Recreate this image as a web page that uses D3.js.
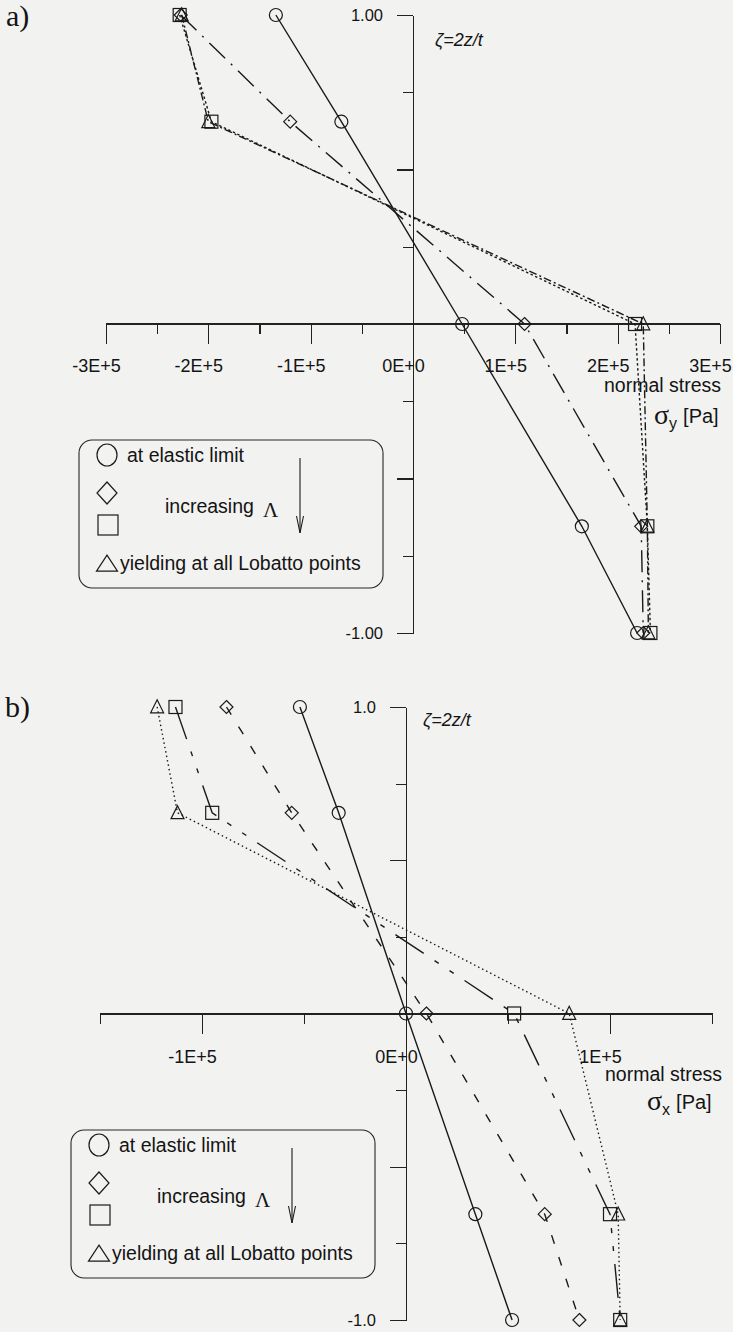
<!DOCTYPE html>
<html>
<head>
<meta charset="utf-8">
<script src="https://cdn.jsdelivr.net/npm/d3@7"></script>
<style>
  html, body { margin: 0; padding: 0; background: #f2f2f0; }
  svg { display: block; }
  .axis path, .axis line { stroke: #222; stroke-width: 1.1; shape-rendering: crispEdges; }
  .axis text { font-family: "Liberation Sans", Arial, sans-serif; fill: #141414; }
  .sans { font-family: "Liberation Sans", Arial, sans-serif; fill: #141414; }
  .serif { font-family: "Liberation Serif", "Times New Roman", serif; fill: #141414; }
</style>
</head>
<body>
<svg id="chart" width="733" height="1332"></svg>
<script>
// Normalised thickness coordinate of the five Lobatto points
const zeta = [1, 0.6547, 0, -0.6547, -1];

// Panel a: normal stress sigma_y [Pa] through the thickness
const sigmaYElastic  = [-134000, -70000,  48000, 165000, 219000];
const sigmaYDiamond  = [-227000, -120000, 109000, 223000, 225000];
const sigmaYSquare   = [-228000, -197000, 217000, 229000, 232000];
const sigmaYYielding = [-226000, -200000, 225000, 229000, 230000];

// Panel b: normal stress sigma_x [Pa] through the thickness
const sigmaXElastic  = [-52000, -33000,     0,  34000,  52000];
const sigmaXDiamond  = [-88000, -56000, 10000,  68000,  85000];
const sigmaXSquare   = [-113000, -95000, 53000, 100000, 105000];
const sigmaXYielding = [-122000, -112000, 80000, 104000, 105000];

// Axis ticks
const aMajorTicks  = [-300000, -200000, -100000, 0, 100000, 200000, 300000];
const aMajorLabels = ["-3E+5", "-2E+5", "-1E+5", "0E+0", "1E+5", "2E+5", "3E+5"];
const aMinorTicks  = [-250000, -150000, -50000, 50000, 150000, 250000];
const bMajorTicks  = [-100000, 0, 100000];
const bMajorLabels = ["-1E+5", "0E+0", "1E+5"];
const bMinorTicks  = [-150000, -50000, 50000, 150000];
const zetaMajorTicks = [-1, -0.5, 0, 0.5, 1];
const zetaMinorTicks = [-0.75, -0.25, 0.25, 0.75];
const aZetaLabels = ["-1.00", "1.00"];
const bZetaLabels = ["-1.0", "1.0"];

// Legend entries
const legendShapes = ["circle", "diamond", "square", "triangle"];
const legendTexts  = ["at elastic limit", "", "", "yielding at all Lobatto points"];

const svg = d3.select("#chart");
const ink = "#1a1a1a";

function marker(g, shape, cx, cy, w, h) {
  h = h || w;
  const hw = w / 2, hh = h / 2;
  let el;
  if (shape === "circle") {
    el = g.append("ellipse").attr("cx", cx).attr("cy", cy).attr("rx", hw).attr("ry", hh);
  } else if (shape === "diamond") {
    el = g.append("path").attr("d", `M${cx},${cy - hh}L${cx + hw},${cy}L${cx},${cy + hh}L${cx - hw},${cy}Z`);
  } else if (shape === "square") {
    el = g.append("rect").attr("x", cx - hw).attr("y", cy - hh).attr("width", w).attr("height", h);
  } else {
    el = g.append("path").attr("d", `M${cx},${cy - hh * 1.1}L${cx + hw},${cy + hh * 0.9}L${cx - hw},${cy + hh * 0.9}Z`);
  }
  el.attr("fill", "none").attr("stroke", ink).attr("stroke-width", 1.2);
}

const panels = [
  {
    tag: "a)", tagPos: [6, 26],
    xDomain: [-300000, 300000], xRange: [106, 720], yRange: [633, 15],
    majors: aMajorTicks, majorLabels: aMajorLabels, minors: aMinorTicks,
    zetaLabels: aZetaLabels, tickPad: 15,
    zetaPos: [435, 46],
    stressPos: [721, 392], sigmaPos: [654, 424], sub: "y",
    legendPos: [79, 440],
    series: [
      { shape: "circle",   values: sigmaYElastic,  dash: null },
      { shape: "diamond",  values: sigmaYDiamond,  dash: "22,8,2,8" },
      { shape: "square",   values: sigmaYSquare,   dash: "2.5,2.5" },
      { shape: "triangle", values: sigmaYYielding, dash: "8,3,2,3" }
    ]
  },
  {
    tag: "b)", tagPos: [5, 717],
    xDomain: [-150000, 150000], xRange: [100, 712], yRange: [1320, 707],
    majors: bMajorTicks, majorLabels: bMajorLabels, minors: bMinorTicks,
    zetaLabels: bZetaLabels, tickPad: 17,
    zetaPos: [423, 726],
    stressPos: [722, 1081], sigmaPos: [647, 1110], sub: "x",
    legendPos: [71, 1130],
    series: [
      { shape: "circle",   values: sigmaXElastic,  dash: null },
      { shape: "diamond",  values: sigmaXDiamond,  dash: "9,14" },
      { shape: "square",   values: sigmaXSquare,   dash: "34,13,5,13,5,13" },
      { shape: "triangle", values: sigmaXYielding, dash: "1.5,3" }
    ]
  }
];

panels.forEach(p => {
  const x = d3.scaleLinear().domain(p.xDomain).range(p.xRange);
  const y = d3.scaleLinear().domain([-1, 1]).range(p.yRange);
  const g = svg.append("g");

  // x axis (through zeta = 0), ticks pointing down
  g.append("g").attr("class", "axis")
    .attr("transform", `translate(0,${y(0)})`)
    .call(d3.axisBottom(x).tickValues(p.minors).tickSize(10).tickSizeOuter(0).tickFormat(""));
  const xa = g.append("g").attr("class", "axis")
    .attr("transform", `translate(0,${y(0)})`)
    .call(d3.axisBottom(x).tickValues(p.majors).tickSize(20).tickSizeOuter(0)
      .tickPadding(p.tickPad).tickFormat(d => p.majorLabels[p.majors.indexOf(d)]));
  xa.selectAll("text").attr("font-size", 18).attr("dx", -10);
  xa.select(".domain").attr("d", `M${p.xRange[0]},0H${p.xRange[1]}`);

  // zeta axis (through sigma = 0), ticks pointing left
  g.append("g").attr("class", "axis")
    .attr("transform", `translate(${x(0)},0)`)
    .call(d3.axisLeft(y).tickValues(zetaMinorTicks).tickSize(10).tickSizeOuter(0).tickFormat(""));
  const ya = g.append("g").attr("class", "axis")
    .attr("transform", `translate(${x(0)},0)`)
    .call(d3.axisLeft(y).tickValues(zetaMajorTicks).tickSize(16).tickSizeOuter(0).tickPadding(14)
      .tickFormat(d => d === 1 ? p.zetaLabels[1] : d === -1 ? p.zetaLabels[0] : ""));
  ya.selectAll("text").attr("font-size", 16.5);

  // stress profiles
  const line = d3.line().x(d => x(d.s)).y(d => y(d.z));
  p.series.forEach(s => {
    const pts = zeta.map((z, i) => ({ z, s: s.values[i] }));
    g.append("path").datum(pts).attr("d", line)
      .attr("fill", "none").attr("stroke", ink).attr("stroke-width", 1.4)
      .attr("stroke-dasharray", s.dash);
    pts.forEach(d => marker(g, s.shape, x(d.s), y(d.z), 13));
  });

  // panel tag
  g.append("text").attr("class", "serif").attr("x", p.tagPos[0]).attr("y", p.tagPos[1])
    .attr("font-size", 30).text(p.tag);

  // vertical axis title
  g.append("text").attr("class", "sans").attr("x", p.zetaPos[0]).attr("y", p.zetaPos[1])
    .attr("font-size", 18).attr("font-style", "italic").text("ζ=2z/t");

  // horizontal axis title
  g.append("text").attr("class", "sans").attr("x", p.stressPos[0]).attr("y", p.stressPos[1])
    .attr("font-size", 19.5).attr("text-anchor", "end").text("normal stress");
  const sig = g.append("text").attr("x", p.sigmaPos[0]).attr("y", p.sigmaPos[1]);
  sig.append("tspan").attr("class", "serif").attr("font-size", 28).text("σ");
  sig.append("tspan").attr("class", "sans").attr("font-size", 16).attr("dy", 5).text(p.sub);
  sig.append("tspan").attr("class", "sans").attr("font-size", 20).attr("dy", -6).attr("dx", 6).text("[Pa]");

  // legend
  const lg = g.append("g").attr("transform", `translate(${p.legendPos[0]},${p.legendPos[1]})`);
  lg.append("rect").attr("width", 304).attr("height", 148).attr("rx", 13)
    .attr("fill", "none").attr("stroke", "#262626").attr("stroke-width", 1.1);
  const rowY = [15, 53, 85, 123];
  legendShapes.forEach((sh, i) => {
    if (sh === "triangle") marker(lg, sh, 28, rowY[i] + 1, 21, 16);
    else if (sh === "square") marker(lg, sh, 29, rowY[i], 20, 20);
    else marker(lg, sh, 28, rowY[i], 20, 22);
    if (legendTexts[i]) {
      lg.append("text").attr("class", "sans").attr("font-size", 19.5)
        .attr("x", sh === "triangle" ? 41 : 48).attr("y", rowY[i] + 7).text(legendTexts[i]);
    }
  });
  const inc = lg.append("text").attr("x", 86).attr("y", 73);
  inc.append("tspan").attr("class", "sans").attr("font-size", 19.5).text("increasing");
  inc.append("tspan").attr("class", "serif").attr("font-size", 21).attr("dx", 9).attr("dy", 4).text("Λ");
  lg.append("line").attr("x1", 221).attr("x2", 221).attr("y1", 18).attr("y2", 93)
    .attr("stroke", ink).attr("stroke-width", 1.1);
  lg.append("path").attr("d", "M217.5,76L221,93L224.5,76")
    .attr("fill", "none").attr("stroke", ink).attr("stroke-width", 1.1);
});
</script>
</body>
</html>
